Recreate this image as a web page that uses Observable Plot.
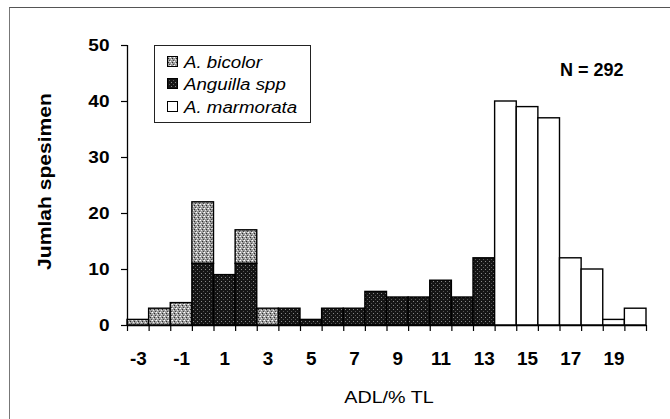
<!DOCTYPE html>
<html>
<head>
<meta charset="utf-8">
<script src="https://cdn.jsdelivr.net/npm/d3@7"></script>
<script src="https://cdn.jsdelivr.net/npm/@observablehq/plot@0.6"></script>
<style>
  body { margin: 0; background: #fff; }
  #wrap { position: relative; width: 670px; height: 419px; overflow: hidden; font-family: "Liberation Sans", Arial, sans-serif; background: #fff; }
  #wrap > svg.plot { position: absolute; left: 0; top: 0; }
  #border { position: absolute; left: 9px; top: 7px; width: 700px; height: 450px; border-top: 1px solid #555; border-left: 1px solid #777; pointer-events: none; }
  #legend { position: absolute; left: 154px; top: 45px; }
</style>
</head>
<body>
<div id="wrap"><div id="border"></div></div>
<script>
// ---- data ----
const categories = [-3, -2, -1, 0, 1, 2, 3, 4, 5, 6, 7, 8, 9, 10, 11, 12, 13, 14, 15, 16, 17, 18, 19, 20];
const seriesNames = ["A. bicolor", "Anguilla spp", "A. marmorata"];
const bicolor   = [1, 3, 4, 11, 0, 6, 3, 0, 0, 0, 0, 0, 0, 0, 0, 0, 0, 0, 0, 0, 0, 0, 0, 0];
const anguilla  = [0, 0, 0, 11, 9, 11, 0, 3, 1, 3, 3, 6, 5, 5, 8, 5, 12, 0, 0, 0, 0, 0, 0, 0];
const marmorata = [0, 0, 0, 0, 0, 0, 0, 0, 0, 0, 0, 0, 0, 0, 0, 0, 0, 40, 39, 37, 12, 10, 1, 3];
const xTickLabels = [-3, -1, 1, 3, 5, 7, 9, 11, 13, 15, 17, 19];
const yTicks = [0, 10, 20, 30, 40, 50];
const xLabel = "ADL/% TL";
const yLabel = "Jumlah spesimen";
const nLabel = "N = 292";

const values = [bicolor, anguilla, marmorata];
const rows = seriesNames.flatMap((s, si) =>
  categories.map((c, i) => ({cat: c, n: values[si][i], s}))
).filter(d => d.n > 0);
const stackOrder = ["A. marmorata", "Anguilla spp", "A. bicolor"];
const edges = [categories[0] - 0.5, ...categories.map(c => c + 0.5)];
const xDomain = [edges[0], edges[edges.length - 1]];
const fills = ["url(#pBic)", "url(#pAng)", "#ffffff"];

const font = "Liberation Sans, Arial, sans-serif";

const chart = Plot.plot({
  width: 670,
  height: 419,
  marginLeft: 127,
  marginRight: 24,
  marginTop: 45,
  marginBottom: 94,
  style: {fontFamily: font, background: "transparent", color: "#000"},
  x: {domain: xDomain},
  y: {domain: [0, 50]},
  color: {domain: seriesNames, range: fills},
  marks: [
    Plot.rectY(rows, Plot.stackY({
      x1: d => d.cat - 0.5,
      x2: d => d.cat + 0.5,
      y: "n",
      fill: "s",
      order: stackOrder,
      stroke: "#000",
      strokeWidth: 1.4
    })),
    Plot.ruleY([0], {stroke: "#000", strokeWidth: 1.3}),
    Plot.ruleX([xDomain[0]], {stroke: "#000", strokeWidth: 1.3}),
    Plot.axisY({ticks: yTicks, tickSize: 6, tickPadding: 12, tickFormat: d => String(d), fontSize: 17, fontWeight: "bold", label: null, stroke: "#000", strokeWidth: 1.2, fill: "#000", className: "ytl"}),
    Plot.axisX({ticks: edges, tickSize: 6, tickFormat: () => "", label: null, stroke: "#000", strokeWidth: 1.2}),
    Plot.axisX({ticks: xTickLabels, tickSize: 0, tickPadding: 27, tickFormat: d => String(d), fontSize: 18, fontWeight: "bold", label: null, fill: "#000", className: "xtl"}),
    Plot.text([yLabel], {text: d => d, frameAnchor: "left", rotate: -90, dx: -82, dy: -4, fontSize: 18.5, fontWeight: "bold", fill: "#000", lineAnchor: "middle", textAnchor: "middle", className: "ylab"}),
    Plot.text([xLabel], {text: d => d, frameAnchor: "bottom", dx: 2, dy: 77, fontSize: 17, fill: "#000", className: "xlab"}),
    Plot.text([nLabel], {text: d => d, frameAnchor: "top-right", dx: -23, dy: 18, lineAnchor: "top", fontSize: 18, fontWeight: "bold", fill: "#000"})
  ]
});

const ns = "http://www.w3.org/2000/svg";
const defs = document.createElementNS(ns, "defs");
defs.innerHTML = `
<pattern id="pBic" width="4" height="4" patternUnits="userSpaceOnUse">
  <rect width="4" height="4" fill="#9c9c9c"/>
  <rect x="0" y="0" width="1" height="1" fill="#ffffff"/>
  <rect x="2" y="1" width="1" height="1" fill="#2a2a2a"/>
  <rect x="1" y="2" width="1" height="1" fill="#e8e8e8"/>
  <rect x="3" y="3" width="1" height="1" fill="#444"/>
  <rect x="3" y="0" width="1" height="1" fill="#d0d0d0"/>
</pattern>
<pattern id="pAng" width="4" height="4" patternUnits="userSpaceOnUse">
  <rect width="4" height="4" fill="#151515"/>
  <rect x="1" y="1" width="1" height="1" fill="#888"/>
  <rect x="3" y="3" width="1" height="1" fill="#555"/>
</pattern>`;
chart.insertBefore(defs, chart.firstChild);
document.getElementById("wrap").appendChild(chart);

// horizontally stretch lettering, as in the (stretched) original
function stretch(nodes, s) {
  nodes.forEach(t => {
    const xa = t.getAttribute("x");
    let tx = 0;
    if (xa !== null && /^-?[\d.]+$/.test(xa)) { tx = +xa; t.removeAttribute("x"); }
    const tr = t.getAttribute("transform") || "";
    t.setAttribute("transform", `${tr} translate(${tx},0) scale(${s},1)`);
  });
}
stretch(chart.querySelectorAll(".ytl text"), 1.12);
stretch(chart.querySelectorAll(".xtl text"), 1.05);
stretch(chart.querySelectorAll(".ylab text"), 1.14);
stretch(chart.querySelectorAll(".xlab text"), 1.16);

// legend
const legendW = 157, legendH = 78;
const leg = d3.select("#wrap").append("svg")
  .attr("id", "legend")
  .attr("width", legendW).attr("height", legendH);
leg.append("rect").attr("x", 0.5).attr("y", 0.5).attr("width", legendW - 1).attr("height", legendH - 1)
  .attr("fill", "#fff").attr("stroke", "#222").attr("stroke-width", 1);
const rowY = [17, 39, 62];
seriesNames.forEach((s, i) => {
  leg.append("rect").attr("x", 13.5).attr("y", rowY[i] - 5.5).attr("width", 10).attr("height", 10)
    .attr("fill", fills[i]).attr("stroke", "#000").attr("stroke-width", 1);
  leg.append("text").attr("transform", `translate(30,${rowY[i]}) scale(1.1,1)`).attr("dy", "0.36em")
    .attr("font-family", font).attr("font-style", "italic").attr("font-size", 17)
    .attr("fill", "#000").text(s);
});
</script>
</body>
</html>
